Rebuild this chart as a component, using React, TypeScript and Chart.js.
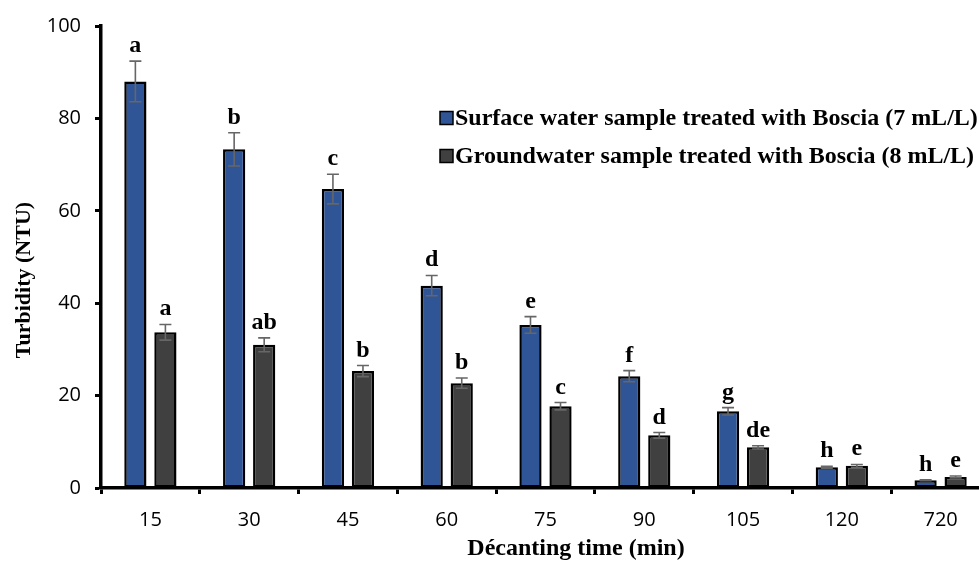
import React, { useEffect, useRef } from "react";
import { Chart, registerables } from "chart.js";

Chart.register(...registerables);

const categories = ["15", "30", "45", "60", "75", "90", "105", "120", "720"];
const surfaceValues = [88.0, 73.3, 64.7, 43.8, 35.3, 24.2, 16.6, 4.5, 1.7];
const surfaceErrors = [4.4, 3.6, 3.2, 2.2, 1.8, 1.2, 0.8, 0.2, 0.1];
const groundValues = [33.7, 31.0, 25.3, 22.7, 17.7, 11.4, 8.8, 4.8, 2.4];
const groundErrors = [1.7, 1.5, 1.2, 1.1, 0.8, 0.6, 0.35, 0.3, 0.2];
const surfaceLetters = ["a", "b", "c", "d", "e", "f", "g", "h", "h"];
const groundLetters = ["a", "ab", "b", "b", "c", "d", "de", "e", "e"];
const seriesLabels = [
  "Surface water sample treated with Boscia (7 mL/L)",
  "Groundwater sample treated with Boscia (8 mL/L)",
];
const yTicks = [0, 20, 40, 60, 80, 100];
const xTitle = "Décanting time (min)";
const yTitle = "Turbidity (NTU)";

const BLUE = "#2F5597";
const GRAY = "#404040";
const SERIF = "'Liberation Serif', 'Times New Roman', serif";
const SANS = "'Open Sans', 'Noto Sans', sans-serif";

const errorsBySeries = [surfaceErrors, groundErrors];
const lettersBySeries = [surfaceLetters, groundLetters];

const overlayPlugin = {
  id: "overlay",
  afterDatasetsDraw(chart: any) {
    const ctx = chart.ctx;
    const y = chart.scales.y;
    chart.data.datasets.forEach((ds: any, i: number) => {
      const meta = chart.getDatasetMeta(i);
      const errs = errorsBySeries[i];
      const letters = lettersBySeries[i];
      meta.data.forEach((bar: any, j: number) => {
        const v = ds.data[j];
        const e = errs[j];
        const yTop = y.getPixelForValue(v + e);
        const yBot = y.getPixelForValue(v - e);
        const x = bar.x;
        ctx.save();
        ctx.strokeStyle = "#666666";
        ctx.lineWidth = 1.6;
        ctx.beginPath();
        ctx.moveTo(x, yTop);
        ctx.lineTo(x, yBot);
        ctx.moveTo(x - 6, yTop);
        ctx.lineTo(x + 6, yTop);
        ctx.moveTo(x - 6, yBot);
        ctx.lineTo(x + 6, yBot);
        ctx.stroke();
        ctx.fillStyle = "#000";
        ctx.font = `bold 24px ${SERIF}`;
        ctx.textAlign = "center";
        ctx.textBaseline = "alphabetic";
        ctx.fillText(letters[j], x, yTop - 9);
        ctx.restore();
      });
    });
  },
  afterDraw(chart: any) {
    const ctx = chart.ctx;
    const area = chart.chartArea;
    ctx.save();
    // legend
    const lx = 440;
    const rows = [118, 156];
    ctx.font = `bold 24px ${SERIF}`;
    ctx.textBaseline = "middle";
    ctx.textAlign = "left";
    chart.data.datasets.forEach((ds: any, i: number) => {
      const cy = rows[i];
      ctx.fillStyle = ds.backgroundColor;
      ctx.fillRect(lx, cy - 6.5, 13, 13);
      ctx.strokeStyle = "#000";
      ctx.lineWidth = 1.5;
      ctx.strokeRect(lx, cy - 6.5, 13, 13);
      ctx.fillStyle = "#000";
      ctx.fillText(ds.label, lx + 15, cy + 1);
    });
    // axis titles
    ctx.textAlign = "center";
    ctx.textBaseline = "middle";
    ctx.font = `bold 24px ${SERIF}`;
    ctx.fillText(xTitle, 576, 549);
    ctx.font = `bold 22px ${SERIF}`;
    ctx.translate(24, (area.top + area.bottom) / 2 + 23);
    ctx.rotate(-Math.PI / 2);
    ctx.fillText(yTitle, 0, 0);
    ctx.restore();
  },
};

export default function App() {
  const ref = useRef<HTMLCanvasElement>(null);
  useEffect(() => {
    if (!ref.current) return;
    const chart = new Chart(ref.current, {
      type: "bar",
      data: {
        labels: categories,
        datasets: [
          {
            label: seriesLabels[0],
            data: surfaceValues,
            backgroundColor: BLUE,
            borderColor: "#000",
            borderWidth: 2.5,
            borderSkipped: false,
            categoryPercentage: 0.608,
            barPercentage: 0.74,
          },
          {
            label: seriesLabels[1],
            data: groundValues,
            backgroundColor: GRAY,
            borderColor: "#000",
            borderWidth: 2.5,
            borderSkipped: false,
            categoryPercentage: 0.608,
            barPercentage: 0.74,
          },
        ],
      },
      options: {
        animation: false,
        responsive: false,
        devicePixelRatio: 1,
        layout: { padding: { top: 24, right: 10, left: 0, bottom: 0 } },
        plugins: {
          legend: { display: false },
          tooltip: { enabled: false },
          title: { display: false },
        },
        scales: {
          x: {
            grid: {
              display: true,
              drawOnChartArea: false,
              drawTicks: true,
              tickLength: 6,
              tickWidth: 3,
              tickColor: "#000",
              offset: true,
            },
            border: { display: true, color: "#000", width: 3.5 },
            ticks: {
              color: "#000",
              font: { family: SANS, size: 20 },
              padding: 14,
            },
            afterFit(scale: any) {
              scale.height = 91;
            },
          },
          y: {
            min: 0,
            max: 100,
            afterBuildTicks(scale: any) {
              scale.ticks = yTicks.map((v) => ({ value: v }));
            },
            grid: {
              display: true,
              drawOnChartArea: false,
              drawTicks: true,
              tickLength: 6,
              tickWidth: 3,
              tickColor: "#000",
            },
            border: { display: true, color: "#000", width: 3.5 },
            ticks: {
              color: "#000",
              font: { family: SANS, size: 20 },
              padding: 14,
            },
            afterFit(scale: any) {
              scale.width = 101;
            },
          },
        },
      },
      plugins: [overlayPlugin],
    });
    if ((document as any).fonts && (document as any).fonts.ready) {
      (document as any).fonts.ready.then(() => {
        try {
          chart.update("none");
        } catch (e) {}
      });
    }
    return () => chart.destroy();
  }, []);
  return (
    <div
      style={{
        position: "fixed",
        left: 0,
        top: 0,
        width: 979,
        height: 579,
        overflow: "hidden",
        background: "#fff",
      }}
    >
      <canvas ref={ref} width={1000} height={579} style={{ display: "block" }} />
    </div>
  );
}
